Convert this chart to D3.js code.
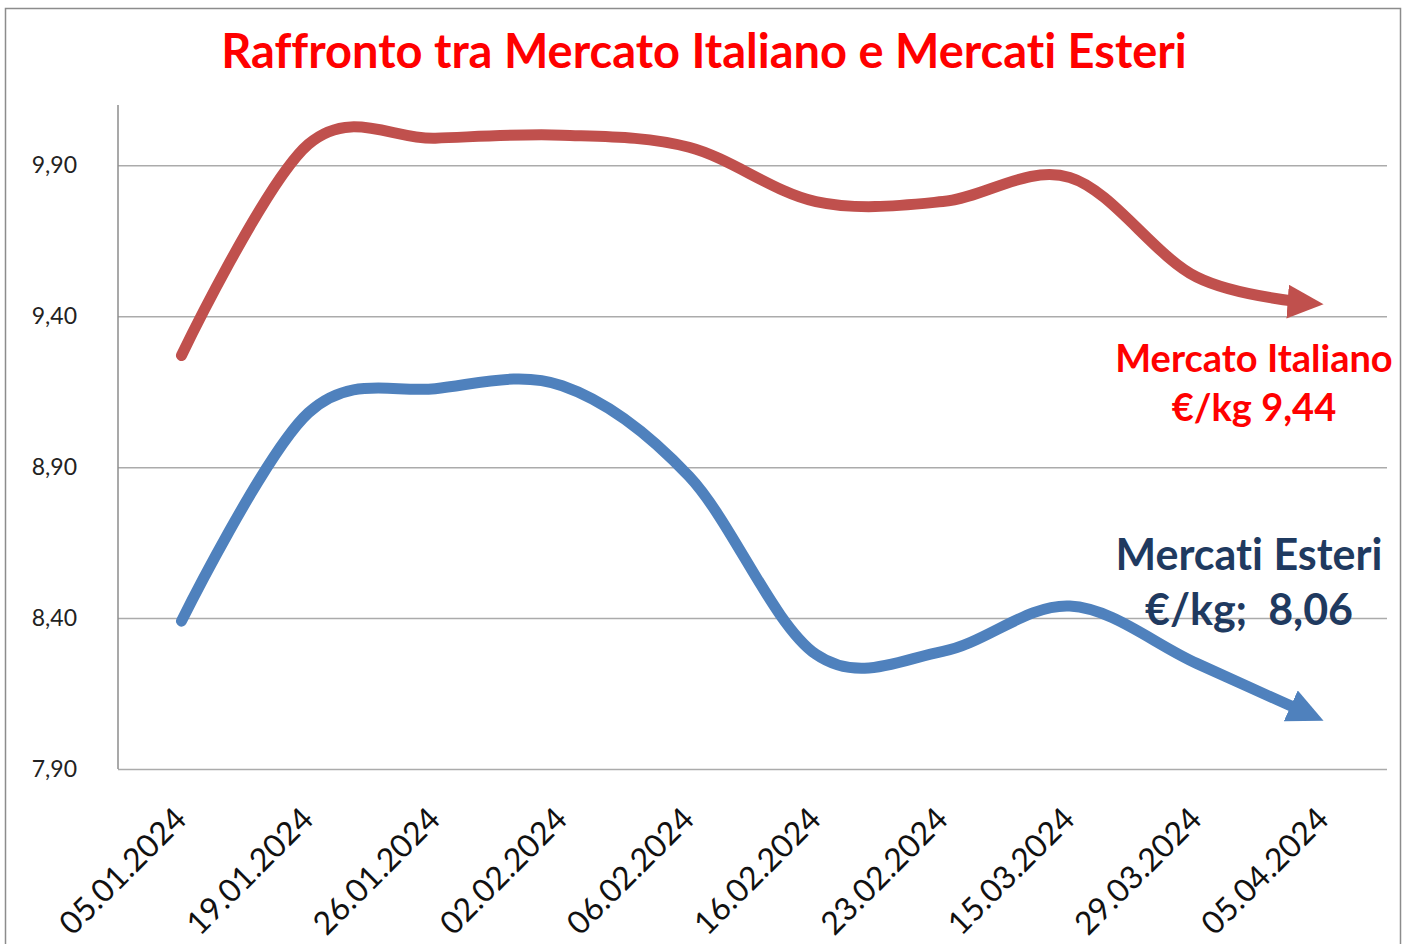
<!DOCTYPE html>
<html>
<head>
<meta charset="utf-8">
<script src="https://cdn.jsdelivr.net/npm/d3@7"></script>
<style>
  body { margin: 0; background: #fff; }
  svg { display: block; font-family: Lato, 'Open Sans', sans-serif; font-variant-ligatures: none; }
  .pre { white-space: pre; }
</style>
</head>
<body>
<svg></svg>
<script>
var width = 1407;
var height = 944;

// dati
var dates = ['05.01.2024', '19.01.2024', '26.01.2024', '02.02.2024', '06.02.2024',
             '16.02.2024', '23.02.2024', '15.03.2024', '29.03.2024', '05.04.2024'];
var italiano = [9.27, 9.97, 9.99, 10.00, 9.96, 9.78, 9.78, 9.86, 9.53, 9.44];
var esteri = [8.39, 9.08, 9.16, 9.17, 8.87, 8.28, 8.29, 8.44, 8.25, 8.06];
var yTicks = [7.90, 8.40, 8.90, 9.40, 9.90];

var margin = {top: 105, right: 20, bottom: 175, left: 118};

var it = d3.formatLocale({decimal: ',', thousands: '.', grouping: [3], currency: ['€', '']});
var fmt = it.format('.2f');

var svg = d3.select('svg')
            .attr('width', width)
            .attr('height', height);

svg.append('rect')
     .attr('x', 5.5)
     .attr('y', 8.5)
     .attr('width', 1395)
     .attr('height', 960)
     .attr('fill', '#fff')
     .attr('stroke', '#8c8c8c')
     .attr('stroke-width', 1.5);

var xScale = d3.scaleBand()
               .domain(dates)
               .range([margin.left, width - margin.right]);
var yScale = d3.scaleLinear()
               .domain([7.90, 10.10])
               .range([height - margin.bottom, margin.top]);

var yAxis = d3.axisLeft(yScale)
              .tickValues(yTicks)
              .tickFormat(fmt)
              .tickSize(-(width - margin.right - margin.left))
              .tickPadding(41);

svg.append('g')
     .classed('axis', true)
     .attr('transform', `translate(${margin.left}, 0)`)
     .call(yAxis)
     .call(g => g.select('.domain').remove())
     .call(g => g.selectAll('.tick line')
                 .attr('stroke', '#ababab')
                 .attr('stroke-width', 1.5))
     .call(g => g.selectAll('.tick text')
                 .attr('fill', '#222')
                 .attr('font-size', 23)
                 .attr('font-family', 'Lato, sans-serif'));

// asse verticale
svg.append('line')
     .attr('x1', margin.left)
     .attr('x2', margin.left)
     .attr('y1', margin.top)
     .attr('y2', yScale(7.90))
     .attr('stroke', '#8c8c8c')
     .attr('stroke-width', 1.5);

var xAxis = d3.axisBottom(xScale)
              .tickSize(0)
              .tickPadding(0);

svg.append('g')
     .classed('axis', true)
     .attr('transform', `translate(0, ${yScale(7.90)})`)
     .call(xAxis)
     .call(g => g.select('.domain').remove())
     .call(g => g.selectAll('.tick text')
                 .attr('y', 0)
                 .attr('dy', 0)
                 .attr('fill', '#111')
                 .attr('font-size', 32)
                 .attr('font-family', 'Lato, sans-serif')
                 .attr('text-anchor', 'end')
                 .attr('transform', 'translate(7, 52) rotate(-45)'));

svg.append('text')
     .attr('x', 704)
     .attr('y', 68)
     .attr('text-anchor', 'middle')
     .attr('fill', '#ff0000')
     .attr('font-weight', 'bold')
     .attr('font-size', 47)
     .text('Raffronto tra Mercato Italiano e Mercati Esteri');

var defs = svg.append('defs');
function addMarker(id, color) {
  defs.append('marker')
        .attr('id', id)
        .attr('viewBox', '0 0 36 34')
        .attr('refX', 36)
        .attr('refY', 17)
        .attr('markerWidth', 36)
        .attr('markerHeight', 34)
        .attr('markerUnits', 'userSpaceOnUse')
        .attr('orient', 'auto')
      .append('path')
        .attr('d', 'M0,0 L36,17 L0,34 Z')
        .attr('fill', color);
}
addMarker('arrow-it', '#c0504d');
addMarker('arrow-est', '#4f81bd');

var line = d3.line()
             .x((d, i) => xScale(dates[i]) + xScale.bandwidth() / 2)
             .y(d => yScale(d))
             .curve(d3.curveCardinal.tension(0));

function drawSeries(values, color, marker) {
  var path = svg.append('path')
                  .datum(values)
                  .attr('d', line)
                  .attr('fill', 'none')
                  .attr('stroke', color)
                  .attr('stroke-width', 11)
                  .attr('stroke-linecap', 'round')
                  .attr('stroke-linejoin', 'round')
                  .attr('marker-end', `url(#${marker})`);
  // la linea si ferma sotto la punta della freccia
  var len = path.node().getTotalLength();
  path.attr('stroke-dasharray', `${len - 28} ${len}`);
}

drawSeries(italiano, '#c0504d', 'arrow-it');
drawSeries(esteri, '#4f81bd', 'arrow-est');

function label(lines, x, y, size, gap, color) {
  svg.append('text')
       .attr('x', x)
       .attr('y', y)
       .attr('text-anchor', 'middle')
       .attr('fill', color)
       .attr('font-weight', 'bold')
       .attr('font-size', size)
     .selectAll('tspan')
     .data(lines)
     .enter()
     .append('tspan')
       .classed('pre', true)
       .attr('x', x)
       .attr('dy', (d, i) => i === 0 ? 0 : gap)
       .text(d => d);
}

label(['Mercato Italiano', '€/kg ' + fmt(italiano[italiano.length - 1])], 1254, 372, 38, 49, '#ff0000');
label(['Mercati Esteri', '€/kg;  ' + fmt(esteri[esteri.length - 1])], 1249, 570, 43, 55, '#1f3a60');
</script>
</body>
</html>
